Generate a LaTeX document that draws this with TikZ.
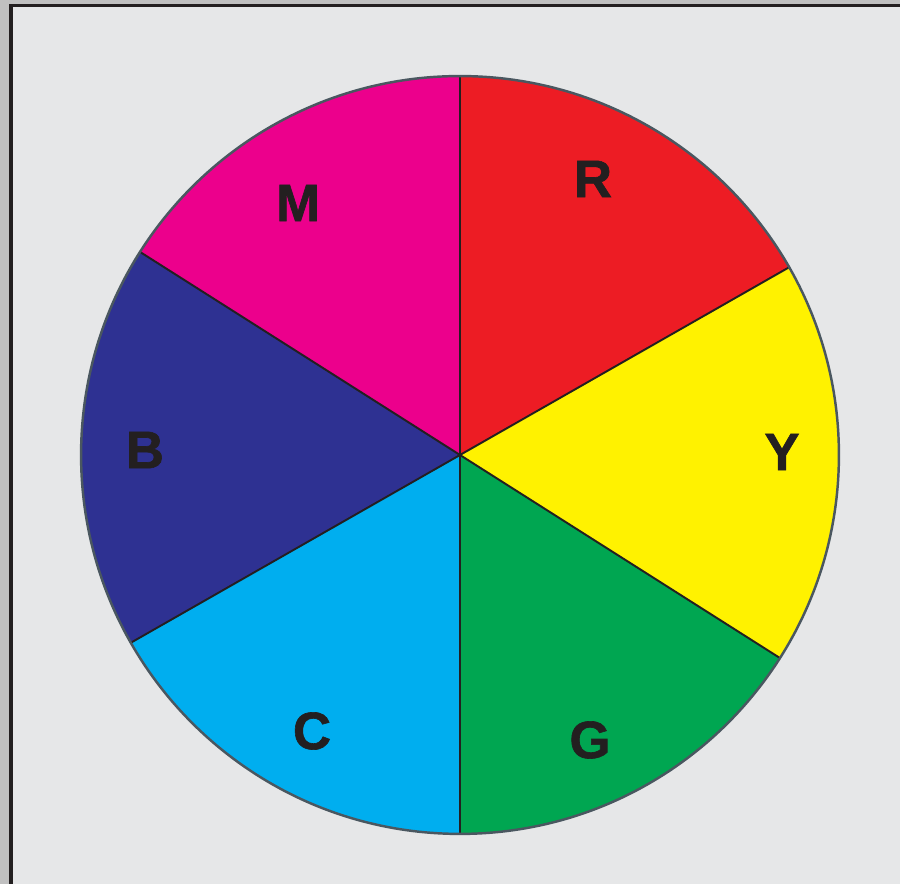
\documentclass[tikz,border=0pt]{standalone}
\usepackage{fontspec}
\setmainfont{Liberation Sans}
\newfontfamily\heavyfont[FakeBold=1.2]{Liberation Sans Bold}
\usetikzlibrary{calc}
\definecolor{outergray}{HTML}{C0C0C0}
\definecolor{panel}{HTML}{E6E7E8}
\definecolor{frame}{HTML}{231F20}
\definecolor{rim}{HTML}{4A5760}
\definecolor{cR}{HTML}{ED1C24}
\definecolor{cY}{HTML}{FFF200}
\definecolor{cG}{HTML}{00A651}
\definecolor{cC}{HTML}{00AEEF}
\definecolor{cB}{HTML}{2E3192}
\definecolor{cM}{HTML}{EC008C}
\tikzset{
  lbl/.style={text=frame, font=\heavyfont\fontsize{30}{30}\selectfont, inner sep=0pt},
  divider/.style={draw=frame, line width=1.1pt},
  mainaxis/.style={draw=frame, line width=1.7pt}
}
\begin{document}
\begin{tikzpicture}[x=0.02cm,y=0.02cm]
\useasboundingbox (0,0) rectangle (900,884);
\fill[outergray] (0,0) rectangle (900,884);
\fill[frame] (9,0) rectangle (900,880);
\fill[panel] (12.5,0) rectangle (900,876.5);
\coordinate (O) at (460,429);
\def\R{7.58cm}
\def\aA{29.7}
\def\aB{147.6}
\fill[cR] (O) -- ++(\aA:\R) arc[start angle=\aA,end angle=90,radius=\R] -- cycle;
\fill[cM] (O) -- ++(90:\R) arc[start angle=90,end angle=\aB,radius=\R] -- cycle;
\fill[cB] (O) -- ++(\aB:\R) arc[start angle=\aB,end angle=180+\aA,radius=\R] -- cycle;
\fill[cC] (O) -- ++(180+\aA:\R) arc[start angle=180+\aA,end angle=270,radius=\R] -- cycle;
\fill[cG] (O) -- ++(270:\R) arc[start angle=270,end angle=180+\aB,radius=\R] -- cycle;
\fill[cY] (O) -- ++(180+\aB:\R) arc[start angle=180+\aB,end angle=360+\aA,radius=\R] -- cycle;
\coordinate (pA) at ($(O)+(\aA:\R)$);
\coordinate (pB) at ($(O)+(\aB:\R)$);
\coordinate (pC) at ($(O)+(180+\aA:\R)$);
\coordinate (pD) at ($(O)+(180+\aB:\R)$);
\coordinate (top) at ($(O)+(90:\R)$);
\coordinate (bot) at ($(O)+(270:\R)$);
\draw[divider] (O) -- (pA);
\draw[divider] (O) -- (pB);
\draw[divider] (O) -- (pC);
\draw[divider] (O) -- (pD);
\draw[mainaxis] (top) -- (bot);
\draw[rim, line width=1.4pt] (O) circle[radius=\R];
\node[lbl] (R) at (593,705) {R};
\node[lbl] (Y) at (782,432) {Y};
\node[lbl] (G) at (590,144) {G};
\node[lbl] (C) at (312,153) {C};
\node[lbl] (B) at (145,434) {B};
\node[lbl] (M) at (298,681) {M};
\end{tikzpicture}
\end{document}
